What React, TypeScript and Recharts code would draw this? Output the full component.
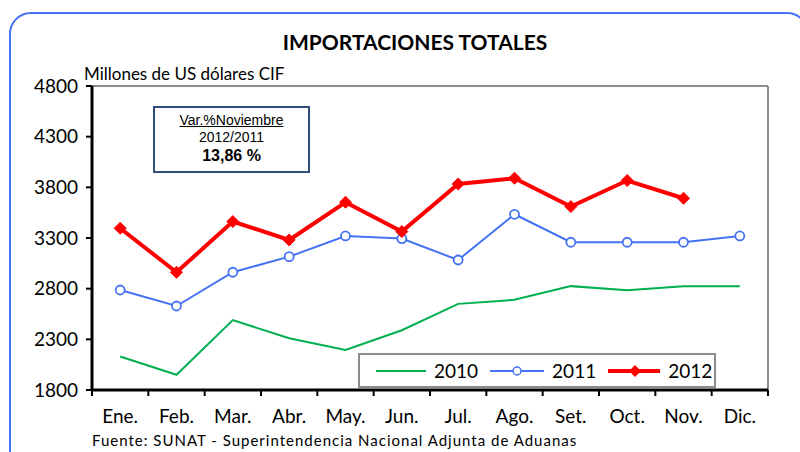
import { LineChart, Line, XAxis, YAxis, ReferenceLine } from 'recharts';

// Monthly imports, millions of US$ CIF
const months = ['Ene.', 'Feb.', 'Mar.', 'Abr.', 'May.', 'Jun.', 'Jul.', 'Ago.', 'Set.', 'Oct.', 'Nov.', 'Dic.'];
const imports2010 = [2130, 1950, 2490, 2310, 2195, 2390, 2650, 2690, 2825, 2785, 2825, 2825];
const imports2011 = [2787, 2629, 2962, 3116, 3320, 3294, 3083, 3534, 3258, 3258, 3258, 3320];
const imports2012 = [3396, 2962, 3462, 3281, 3653, 3363, 3833, 3890, 3610, 3867, 3692, null];
const yTicks = [1800, 2300, 2800, 3300, 3800, 4300, 4800];
const boundaryTicks = [0, 1, 2, 3, 4, 5, 6, 7, 8, 9, 10, 11, 12];

const data = months.map((m, i) => ({
  x: i + 0.5,
  month: m,
  y2010: imports2010[i],
  y2011: imports2011[i],
  y2012: imports2012[i],
}));

const GREEN = '#00b050';
const BLUE = '#4472f4';
const RED = '#ff0000';
const FONT = 'Lato, "Open Sans", sans-serif';

const Diamond = (props: any) => {
  const { cx, cy } = props;
  if (cx == null || cy == null || props.value == null) return null;
  const s = 6;
  return (
    <polygon
      points={`${cx},${cy - s} ${cx + s},${cy} ${cx},${cy + s} ${cx - s},${cy}`}
      fill={RED}
      stroke={RED}
      strokeWidth={1}
    />
  );
};

const LegendBox = () => (
  <div
    style={{
      position: 'absolute',
      left: 358,
      top: 353,
      width: 358,
      height: 35,
      border: '2px solid #8c8c8c',
      boxSizing: 'border-box',
      background: '#fff',
      display: 'flex',
      alignItems: 'center',
      fontFamily: FONT,
      fontSize: 19,
      color: '#000',
    }}
  >
    <svg width={52} height={20} style={{ marginLeft: 16 }}>
      <line x1={0} y1={10} x2={50} y2={10} stroke={GREEN} strokeWidth={2} />
    </svg>
    <span style={{ marginLeft: 6 }}>2010</span>
    <svg width={56} height={20} style={{ marginLeft: 12 }}>
      <line x1={0} y1={10} x2={54} y2={10} stroke={BLUE} strokeWidth={2} />
      <circle cx={27} cy={10} r={4} fill="#fff" stroke={BLUE} strokeWidth={1.5} />
    </svg>
    <span style={{ marginLeft: 6 }}>2011</span>
    <svg width={54} height={20} style={{ marginLeft: 12 }}>
      <line x1={0} y1={10} x2={52} y2={10} stroke={RED} strokeWidth={4} />
      <polygon points="27,4 33,10 27,16 21,10" fill={RED} />
    </svg>
    <span style={{ marginLeft: 6 }}>2012</span>
  </div>
);

export default function App() {
  return (
    <div style={{ position: 'absolute', left: 0, top: 0, width: 800, height: 452, overflow: 'hidden', background: '#fff' }}>
      <div
        style={{
          position: 'absolute',
          left: 9,
          top: 12,
          width: 800,
          height: 470,
          border: '2px solid #4472f4',
          borderRadius: 22,
          boxSizing: 'border-box',
        }}
      />
      <div
        style={{
          position: 'absolute',
          left: 0,
          width: 830,
          top: 29,
          textAlign: 'center',
          fontFamily: FONT,
          fontWeight: 'bold',
          fontSize: 21,
        }}
      >
        IMPORTACIONES TOTALES
      </div>
      <div style={{ position: 'absolute', left: 84, top: 63, fontFamily: FONT, fontSize: 17 }}>
        Millones de US dólares CIF
      </div>
      <LegendBox />
      <div style={{ position: 'absolute', left: 8, top: 0 }}>
        <LineChart width={800} height={452} data={data} margin={{ top: 86, right: 40, bottom: 30, left: 14 }}>
          <ReferenceLine xAxisId="b" y={4800} stroke="#8c8c8c" strokeWidth={2} />
          <ReferenceLine xAxisId="b" x={12} stroke="#8c8c8c" strokeWidth={2} />
          <XAxis
            xAxisId="b"
            dataKey="x"
            type="number"
            domain={[0, 12]}
            ticks={boundaryTicks}
            tickFormatter={() => ''}
            stroke="#000"
            strokeWidth={3}
            axisLine={{ stroke: '#000', strokeWidth: 3 }}
            tickLine={{ stroke: '#000', strokeWidth: 2 }}
            tickSize={6}
            interval={0}
            height={8}
          />
          <XAxis
            xAxisId="lab"
            dataKey="x"
            type="number"
            domain={[0, 12]}
            ticks={data.map((d) => d.x)}
            tickFormatter={(v: number) => months[Math.floor(v)]}
            tickLine={false}
            axisLine={false}
            interval={0}
            height={24}
            tick={{ fill: '#000', fontSize: 19, fontFamily: FONT, dy: 4 }}
          />
          <YAxis
            domain={[1800, 4800]}
            ticks={yTicks}
            interval={0}
            width={70}
            stroke="#000"
            strokeWidth={3}
            axisLine={{ stroke: '#000', strokeWidth: 3 }}
            tickLine={{ stroke: '#000', strokeWidth: 2 }}
            tickSize={6}
            tick={{ fill: '#000', fontSize: 19, fontFamily: FONT, dx: -6 }}
          />
          <Line
            xAxisId="lab"
            dataKey="y2010"
            name="2010"
            stroke={GREEN}
            strokeWidth={2}
            dot={false}
            isAnimationActive={false}
          />
          <Line
            xAxisId="lab"
            dataKey="y2011"
            name="2011"
            stroke={BLUE}
            strokeWidth={2}
            dot={{ r: 4.5, fill: '#fff', stroke: BLUE, strokeWidth: 1.8 }}
            isAnimationActive={false}
          />
          <Line
            xAxisId="lab"
            dataKey="y2012"
            name="2012"
            stroke={RED}
            strokeWidth={4}
            dot={<Diamond />}
            isAnimationActive={false}
          />
        </LineChart>
      </div>
      <div
        style={{
          position: 'absolute',
          left: 153,
          top: 106,
          width: 157,
          height: 67,
          border: '2px solid #2f4e7a',
          boxSizing: 'border-box',
          background: '#fff',
          textAlign: 'center',
          fontFamily: '"Liberation Sans", Arial, sans-serif',
          color: '#000',
        }}
      >
        <div style={{ fontSize: 14, textDecoration: 'underline', marginTop: 3, lineHeight: '18px' }}>Var.%Noviembre</div>
        <div style={{ fontSize: 14, lineHeight: '17px' }}>2012/2011</div>
        <div style={{ fontSize: 16, fontWeight: 'bold', lineHeight: '20px' }}>13,86 %</div>
      </div>
      <div style={{ position: 'absolute', left: 92, top: 431, fontFamily: FONT, fontSize: 15, letterSpacing: 1 }}>
        Fuente: SUNAT - Superintendencia Nacional Adjunta de Aduanas
      </div>
    </div>
  );
}
